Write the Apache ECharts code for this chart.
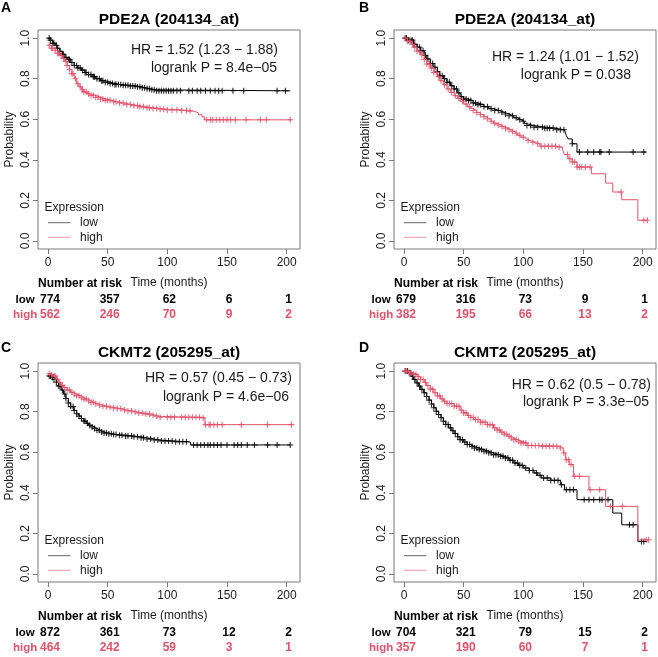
<!DOCTYPE html>
<html>
<head>
<meta charset="utf-8">
<title>Kaplan-Meier curves</title>
<script src="https://cdn.jsdelivr.net/npm/echarts@6/dist/echarts.min.js"></script>
<style>
  html, body { margin: 0; padding: 0; background: #fff; }
  #main { width: 658px; height: 657px; }
</style>
</head>
<body>
<div id="main"></div>
<script>
// panel texts
const panelLetters = ['A', 'B', 'C', 'D']
const titles = ['PDE2A (204134_at)', 'PDE2A (204134_at)', 'CKMT2 (205295_at)', 'CKMT2 (205295_at)']
const hrLabels = ['HR = 1.52 (1.23 \u2212 1.88)', 'HR = 1.24 (1.01 \u2212 1.52)', 'HR = 0.57 (0.45 \u2212 0.73)', 'HR = 0.62 (0.5 \u2212 0.78)']
const pLabels = ['logrank P = 8.4e\u221205', 'logrank P = 0.038', 'logrank P = 4.6e\u221206', 'logrank P = 3.3e\u221205']
const groups = ['low', 'high']

const xTicks = [0, 50, 100, 150, 200]
const yTicks = [0, 0.2, 0.4, 0.6, 0.8, 1]
const riskTimes = [0, 50, 100, 150, 200]

// number at risk
const riskLowA = [774, 357, 62, 6, 1]
const riskHighA = [562, 246, 70, 9, 2]
const riskLowB = [679, 316, 73, 9, 1]
const riskHighB = [382, 195, 66, 13, 2]
const riskLowC = [872, 361, 73, 12, 2]
const riskHighC = [464, 242, 59, 3, 1]
const riskLowD = [704, 321, 79, 15, 2]
const riskHighD = [357, 190, 60, 7, 1]

// survival curves [time, probability]
const lowA = [[0,1],[2,0.99],[4,0.975],[6,0.965],[8,0.95],[10,0.935],[12,0.92],[14,0.905],[16,0.895],[19,0.88],[22,0.865],[25,0.853],[28,0.842],[31,0.83],[34,0.82],[37,0.81],[40,0.8],[44,0.79],[48,0.782],[52,0.776],[56,0.771],[62,0.767],[68,0.764],[74,0.76],[78,0.755],[82,0.75],[86,0.745],[90,0.74],[203,0.74]]
const highA = [[0,0.965],[3,0.95],[6,0.94],[8,0.925],[10,0.915],[12,0.9],[14,0.885],[16,0.865],[18,0.845],[20,0.825],[22,0.8],[24,0.775],[26,0.76],[28,0.745],[30,0.735],[33,0.725],[36,0.717],[40,0.708],[44,0.7],[48,0.693],[53,0.686],[58,0.68],[64,0.673],[70,0.667],[76,0.661],[82,0.657],[88,0.653],[94,0.649],[100,0.646],[112,0.643],[118,0.64],[122,0.632],[126,0.622],[129,0.612],[131,0.597],[204,0.597]]
const lowB = [[0,1],[4,0.99],[8,0.97],[11,0.955],[14,0.938],[17,0.915],[19,0.897],[22,0.875],[25,0.856],[28,0.835],[30,0.815],[33,0.8],[36,0.782],[39,0.765],[42,0.749],[45,0.73],[47,0.711],[50,0.7],[53,0.692],[58,0.68],[62,0.672],[67,0.662],[71,0.652],[75,0.643],[80,0.634],[84,0.626],[88,0.617],[92,0.607],[95,0.598],[98,0.59],[101,0.578],[103,0.569],[109,0.561],[117,0.556],[126,0.548],[134.5,0.544],[136,0.52],[137.5,0.503],[141,0.479],[145,0.438],[203,0.438]]
const highB = [[0,1],[3,0.985],[6,0.97],[8,0.954],[11,0.935],[14,0.918],[17,0.895],[19,0.872],[22,0.852],[25,0.831],[28,0.81],[30,0.79],[33,0.77],[36,0.749],[39,0.732],[42,0.716],[45,0.702],[47,0.689],[50,0.675],[53,0.662],[56,0.652],[58,0.643],[61,0.633],[64,0.623],[67,0.612],[70,0.602],[73,0.59],[75,0.58],[78,0.572],[81,0.564],[84,0.556],[87,0.548],[90,0.54],[92,0.531],[95,0.521],[98,0.511],[101,0.503],[103,0.495],[106,0.487],[109,0.479],[114,0.467],[128,0.462],[133,0.446],[134.5,0.426],[137.5,0.405],[141,0.389],[145,0.364],[157,0.331],[169,0.285],[175,0.241],[182.5,0.203],[196,0.102],[204,0.102]]
const lowC = [[0,0.976],[3,0.968],[5,0.96],[7,0.945],[9,0.927],[11,0.907],[13,0.887],[15,0.865],[17,0.843],[19,0.825],[21.5,0.806],[24,0.79],[26,0.778],[28,0.766],[30,0.754],[32,0.743],[34,0.733],[36,0.725],[38.5,0.717],[41,0.708],[44,0.7],[47,0.695],[50,0.691],[54,0.687],[58,0.684],[65,0.68],[72,0.676],[78,0.671],[83,0.665],[89,0.66],[94,0.655],[105,0.652],[117,0.649],[119.5,0.636],[203,0.636]]
const highC = [[0,0.987],[3,0.982],[5,0.976],[7,0.96],[9,0.943],[11,0.93],[13,0.919],[16,0.907],[19,0.895],[22,0.887],[24,0.879],[27,0.87],[30,0.862],[33,0.854],[36,0.846],[39,0.839],[41,0.833],[45,0.827],[50,0.822],[54,0.818],[58,0.814],[62,0.808],[66,0.803],[71,0.798],[75,0.793],[80,0.788],[86,0.782],[90,0.777],[94,0.773],[114,0.772],[129,0.769],[131.5,0.736],[205,0.736]]
const lowD = [[0,1],[4,0.992],[6,0.975],[8,0.959],[10,0.942],[12,0.926],[14,0.91],[16.5,0.893],[19,0.875],[21,0.857],[23,0.838],[25,0.819],[27,0.802],[29,0.786],[31,0.77],[33,0.753],[35,0.737],[37.5,0.72],[40,0.706],[42,0.692],[45,0.676],[47,0.662],[50,0.65],[53,0.638],[56,0.629],[58.5,0.621],[63,0.613],[67,0.605],[71,0.597],[75,0.588],[80,0.58],[84,0.572],[88,0.56],[92,0.547],[96,0.535],[100,0.522],[105,0.51],[109,0.498],[112,0.486],[115,0.473],[123,0.461],[131,0.44],[134.5,0.415],[145,0.366],[175,0.3],[182.5,0.242],[196,0.16],[204,0.16]]
const highD = [[0,1],[4,0.992],[8,0.984],[11,0.972],[14,0.959],[17,0.944],[19,0.929],[22,0.911],[25,0.893],[28,0.878],[30.5,0.863],[33,0.851],[36,0.84],[42,0.827],[47,0.807],[50,0.794],[53,0.781],[56,0.771],[58.5,0.761],[64,0.748],[70,0.736],[75,0.72],[78,0.71],[81,0.699],[84,0.689],[87,0.679],[90,0.67],[92,0.662],[95,0.654],[98,0.646],[103,0.633],[115,0.629],[131,0.621],[133.5,0.596],[135.5,0.563],[138.5,0.539],[142,0.481],[155,0.415],[169,0.333],[196,0.168],[205,0.168]]

// censoring times ("+" marks)
const censLowA = [1,2,4,5,7,8,10,12,13,15,17,18,20,22,24,25,27,29,31,32,34,36,38,39,41,43,45,46,48,50,52,54,56,57,59,61,63,65,67,69,71,73,75,77,79,81,83,85,87,89,91,93,95,97,99,101,103,105,108,111,118,121,125,128,132,136,140,143,146,155,164,192,199]
const censHighA = [1,3,4,6,8,9,11,13,15,16,18,20,21,23,25,27,29,30,32,34,36,38,40,42,44,46,48,50,52,55,57,60,63,66,69,72,75,77,80,83,85,88,91,94,97,100,104,108,112,116,119,133,136,138,141,144,147,150,153,157,166,178,183,203]
const censLowB = [1,2,4,6,7,9,11,13,14,16,18,20,22,24,26,28,30,32,34,36,38,40,42,44,46,48,50,52,54,56,58,60,62,64,67,70,73,76,79,82,85,88,91,94,97,100,103,106,109,112,116,118,120,122,125,128,131,134,141,147,154,159,164,165,172,192,201]
const censHighB = [1,3,5,7,9,11,13,15,17,19,21,23,25,27,29,31,34,37,40,43,46,49,52,55,58,61,64,67,70,73,76,79,82,85,88,91,94,97,100,104,108,112,115,118,121,124,127,130,137,139,141,143,145,147,149,152,156,182,201,204]
const censLowC = [1,2,4,5,7,9,10,12,14,15,17,19,21,22,24,26,28,30,31,33,35,37,39,41,43,45,47,49,51,53,55,57,60,62,65,67,70,72,75,78,80,83,86,89,92,95,98,101,104,107,110,113,116,122,125,128,131,134,136,139,142,145,150,156,159,162,167,173,184,192,203]
const censHighC = [1,3,5,6,8,10,12,14,16,18,20,22,24,26,28,30,32,34,36,38,40,43,46,49,52,55,58,61,64,67,70,73,76,79,82,85,88,91,94,100,103,106,112,115,118,121,124,127,130,132,135,136,139,142,146,162,184,204]
const censLowD = [1,3,5,7,9,11,13,15,17,19,21,23,25,27,29,31,33,35,37,39,41,43,45,47,49,51,53,55,57,59,61,63,65,67,69,71,73,75,77,79,81,83,85,87,89,91,93,95,97,99,102,105,108,111,114,117,120,123,126,129,132,136,139,142,151,155,159,164,166,171,189,192,199,201]
const censHighD = [1,2,4,6,8,10,12,14,16,18,20,22,24,26,28,30,32,34,36,38,40,42,44,46,48,50,52,54,56,58,60,62,64,66,68,70,72,74,76,78,80,82,84,86,88,90,92,94,96,98,100,102,104,107,110,113,116,119,122,125,128,131,134,136,138,140,143,147,156,164,173,183,203,205]

const FONT = 'Liberation Sans, Arial, Helvetica, sans-serif'
const RED = '#DF536B'
const BLACK = '#000000'
const FRAME = '#7a7a7a'
const PLUS = 'path://M4.1,0h1.8v10h-1.8z M0,4.1h10v1.8h-10z'

// plot boxes (left, top), all the same size
const boxes = [[38, 30], [394, 30], [38, 363], [394, 363]]
const BOX_W = 262
const BOX_H = 219
const letterPos = [[1, 8], [359, 8], [1, 348], [359, 348]]
// right edge / middle of the two HR lines
const hrPos = [[278, 50, 277, 68], [639, 57, 631, 75], [292, 378, 289, 397], [651, 385, 649, 402]]

const curves = [[lowA, highA], [lowB, highB], [lowC, highC], [lowD, highD]]
const censors = [[censLowA, censHighA], [censLowB, censHighB], [censLowC, censHighC], [censLowD, censHighD]]
const risks = [[riskLowA, riskHighA], [riskLowB, riskHighB], [riskLowC, riskHighC], [riskLowD, riskHighD]]
const colors = [BLACK, RED]

// probability of a step curve at time t
function stepAt(curve, t) {
  let s = curve[0][1]
  for (const [ct, cs] of curve) {
    if (ct <= t) s = cs
    else break
  }
  return s
}

const grid = [], xAxis = [], yAxis = [], series = []
boxes.forEach((b, i) => {
  grid.push({
    left: b[0], top: b[1], width: BOX_W, height: BOX_H,
    show: true, borderColor: FRAME, borderWidth: 1, backgroundColor: 'transparent'
  })
  xAxis.push({
    gridIndex: i, type: 'value', min: -8.4, max: 211.2,
    axisLine: { show: false, onZero: false },
    splitLine: { show: false },
    axisTick: { show: true, customValues: xTicks, length: 5, lineStyle: { color: FRAME } },
    axisLabel: { customValues: xTicks, margin: 8, fontSize: 12, color: '#1a1a1a', fontFamily: FONT },
    name: 'Time (months)', nameLocation: 'middle', nameGap: 28,
    nameTextStyle: { fontSize: 12, color: '#1a1a1a', fontFamily: FONT }
  })
  yAxis.push({
    gridIndex: i, type: 'value', min: -0.04, max: 1.04,
    axisLine: { show: false, onZero: false },
    splitLine: { show: false },
    axisTick: { show: true, customValues: yTicks, length: 5, lineStyle: { color: FRAME } },
    axisLabel: {
      customValues: yTicks, margin: 6, rotate: 90, fontSize: 12, color: '#1a1a1a', fontFamily: FONT,
      formatter: v => v.toFixed(1)
    },
    name: 'Probability', nameLocation: 'middle', nameGap: 22, nameRotate: 90,
    nameTextStyle: { fontSize: 12, color: '#1a1a1a', fontFamily: FONT }
  })
  groups.forEach((g, k) => {
    const curve = curves[i][k]
    series.push({
      name: g, type: 'line', step: 'end',
      xAxisIndex: i, yAxisIndex: i,
      data: curve,
      showSymbol: false, symbol: 'none', clip: false,
      lineStyle: { color: colors[k], width: 1 },
      itemStyle: { color: colors[k] },
      z: 2 + k
    })
    series.push({
      name: g, type: 'scatter',
      xAxisIndex: i, yAxisIndex: i,
      data: censors[i][k].map(t => [t, stepAt(curve, t)]),
      symbol: PLUS, symbolSize: 6, clip: false,
      itemStyle: { color: colors[k], opacity: 0.85 },
      z: 2 + k
    })
  })
})

const chart = echarts.init(document.getElementById('main'))
chart.setOption({
  animation: false,
  backgroundColor: '#ffffff',
  textStyle: { fontFamily: FONT },
  grid, xAxis, yAxis, series
})

// texts around the plots
const graphic = []
const txt = (x, y, text, opt) => graphic.push({
  type: 'text', x, y, silent: true,
  style: Object.assign({ text, fontFamily: FONT, fontSize: 12, fill: '#1a1a1a', align: 'left', verticalAlign: 'middle' }, opt)
})
boxes.forEach((b, i) => {
  const [bx, by] = b
  txt(letterPos[i][0], letterPos[i][1], panelLetters[i], { fontSize: 14, fontWeight: 'bold', fill: '#000' })
  txt(bx + BOX_W / 2, by - 10, titles[i], { fontSize: 15.5, fontWeight: 'bold', fill: '#000', align: 'center' })
  txt(hrPos[i][0], hrPos[i][1], hrLabels[i], { fontSize: 14, align: 'right' })
  txt(hrPos[i][2], hrPos[i][3], pLabels[i], { fontSize: 14, align: 'right' })

  // legend
  txt(bx + 6.5, by + 177.5, 'Expression', {})
  groups.forEach((g, k) => {
    const ly = by + 192.7 + k * 14.6
    graphic.push({
      type: 'line', silent: true,
      shape: { x1: bx + 10, y1: ly, x2: bx + 32.5, y2: ly },
      style: { stroke: colors[k], lineWidth: 1, opacity: 0.6 }
    })
    txt(bx + 42, ly, g, {})
  })

  // number at risk table
  txt(bx + 42, by + 254, 'Number at risk', { fontWeight: 'bold', align: 'center', fill: '#000' })
  groups.forEach((g, k) => {
    const ry = by + 270 + k * 15
    txt(bx - 12.8, ry, g, { fontWeight: 'bold', fontSize: 11.5, align: 'center', fill: colors[k] })
    risks[i][k].forEach((n, j) => {
      const px = chart.convertToPixel({ xAxisIndex: i }, riskTimes[j])
      txt(px + 2, ry, String(n), { fontWeight: 'bold', align: 'center', fill: colors[k] })
    })
  })
})
chart.setOption({ graphic })
</script>
</body>
</html>
